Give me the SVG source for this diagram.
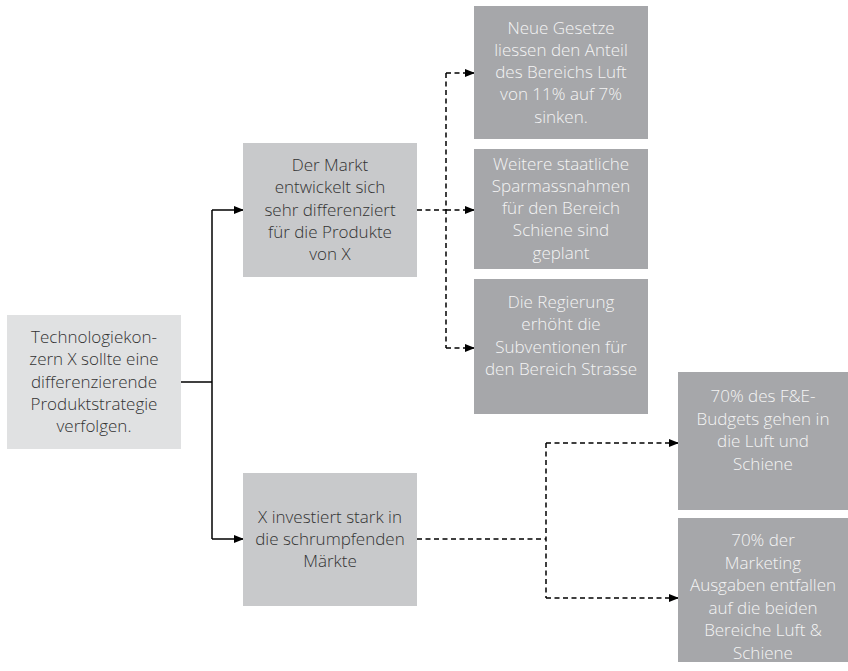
<svg xmlns="http://www.w3.org/2000/svg" width="848" height="671" viewBox="0 0 848 671">
<defs>
<marker id="arr" markerUnits="userSpaceOnUse" markerWidth="10" markerHeight="8" refX="9" refY="4" orient="auto">
<path d="M0,0 L10,4 L0,8 Z" fill="#000"/>
</marker>
<style>
.t{font-family:"Open Sans","Noto Sans","DejaVu Sans",sans-serif;font-size:17px;font-weight:300;text-anchor:middle}
.dk{fill:#333333}
.lt{fill:#f4f4f4}
.c1{fill:#e0e1e2}
.c2{fill:#c8c9cb}
.c3{fill:#a6a7aa}
.s{stroke:#000;stroke-width:1.5;fill:none}
.d{stroke:#000;stroke-width:1.5;fill:none;stroke-dasharray:5,3.5}
</style>
</defs>
<rect width="848" height="671" fill="#ffffff"/>
<g id="connectors">
<polyline class="s" points="181,382 212,382"/>
<polyline class="s" points="212,210 212,539"/>
<polyline class="s" points="212,210 243,210" marker-end="url(#arr)"/>
<polyline class="s" points="212,539 243,539" marker-end="url(#arr)"/>
<polyline class="d" points="417,210 446,210"/>
<polyline class="d" points="446,73 446,348"/>
<polyline class="d" points="446,73 474,73" marker-end="url(#arr)"/>
<polyline class="d" points="446,210 474,210" marker-end="url(#arr)"/>
<polyline class="d" points="446,348 474,348" marker-end="url(#arr)"/>
<polyline class="d" points="417,539 546,539"/>
<polyline class="d" points="546,443 546,598"/>
<polyline class="d" points="546,443 678,443" marker-end="url(#arr)"/>
<polyline class="d" points="546,598 678,598" marker-end="url(#arr)"/>
</g>
<g id="root">
<rect class="c1" x="7" y="315" width="174" height="134"/>
<text class="t dk" x="94"><tspan x="94" y="343">Technologiekon-</tspan><tspan x="94" y="365.3">zern X sollte eine</tspan><tspan x="94" y="387.6">differenzierende</tspan><tspan x="94" y="409.9">Produktstrategie</tspan><tspan x="94" y="432.2">verfolgen.</tspan></text>
</g>
<g id="markt">
<rect class="c2" x="243" y="143" width="174" height="134"/>
<text class="t dk"><tspan x="330" y="171">Der Markt</tspan><tspan x="330" y="193.3">entwickelt sich</tspan><tspan x="330" y="215.6">sehr differenziert</tspan><tspan x="330" y="237.9">für die Produkte</tspan><tspan x="330" y="260.2">von X</tspan></text>
</g>
<g id="investiert">
<rect class="c2" x="243" y="473" width="174" height="133"/>
<text class="t dk"><tspan x="330" y="522.5">X investiert stark in</tspan><tspan x="330" y="544.8">die schrumpfenden</tspan><tspan x="330" y="567.1">Märkte</tspan></text>
</g>
<g id="gesetze">
<rect class="c3" x="474" y="6" width="174" height="133"/>
<text class="t lt"><tspan x="561" y="33.5">Neue Gesetze</tspan><tspan x="561" y="55.8">liessen den Anteil</tspan><tspan x="561" y="78.1">des Bereichs Luft</tspan><tspan x="561" y="100.4">von 11% auf 7%</tspan><tspan x="561" y="122.7">sinken.</tspan></text>
</g>
<g id="sparmassnahmen">
<rect class="c3" x="474" y="149" width="174" height="120"/>
<text class="t lt"><tspan x="561" y="169.5">Weitere staatliche</tspan><tspan x="561" y="191.8">Sparmassnahmen</tspan><tspan x="561" y="214.1">für den Bereich</tspan><tspan x="561" y="236.4">Schiene sind</tspan><tspan x="561" y="258.7">geplant</tspan></text>
</g>
<g id="subventionen">
<rect class="c3" x="474" y="279" width="174" height="135"/>
<text class="t lt"><tspan x="561" y="308">Die Regierung</tspan><tspan x="561" y="330.3">erhöht die</tspan><tspan x="561" y="352.6">Subventionen für</tspan><tspan x="561" y="374.9">den Bereich Strasse</tspan></text>
</g>
<g id="budget">
<rect class="c3" x="678" y="372" width="170" height="138"/>
<text class="t lt"><tspan x="763" y="402">70% des F&amp;E-</tspan><tspan x="763" y="424.5">Budgets gehen in</tspan><tspan x="763" y="447">die Luft und</tspan><tspan x="763" y="469.5">Schiene</tspan></text>
</g>
<g id="marketing">
<rect class="c3" x="678" y="518" width="170" height="144"/>
<text class="t lt"><tspan x="763" y="546">70% der</tspan><tspan x="763" y="568.5">Marketing</tspan><tspan x="763" y="591">Ausgaben entfallen</tspan><tspan x="763" y="613.5">auf die beiden</tspan><tspan x="763" y="636">Bereiche Luft &amp;</tspan><tspan x="763" y="658.5">Schiene</tspan></text>
</g>
</svg>
